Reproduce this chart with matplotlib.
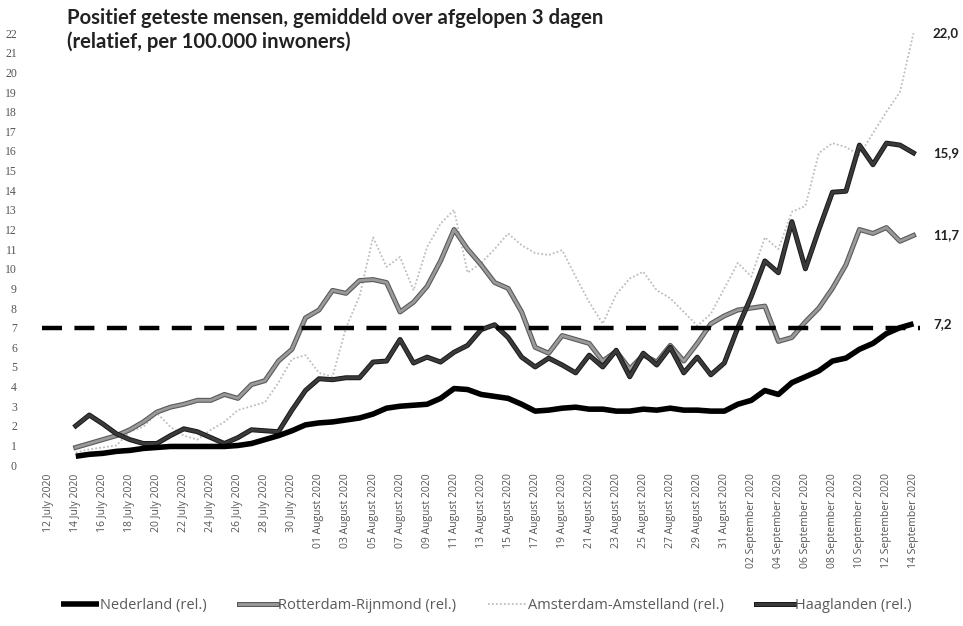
import matplotlib

matplotlib.use("Agg")
import matplotlib.pyplot as plt
import matplotlib.patheffects as pe
import pandas as pd

# categories: every day from 12 July to 14 September 2020, data from 14 July
dates = pd.date_range("2020-07-12", "2020-09-14", freq="D")
first_data_day = 2

nederland = [0.45, 0.55, 0.6, 0.7, 0.75, 0.85, 0.9, 0.95, 0.95, 0.95, 0.95, 0.95,
             1.0, 1.1, 1.3, 1.5, 1.75, 2.05, 2.15, 2.2, 2.3, 2.4, 2.6, 2.9, 3.0,
             3.05, 3.1, 3.4, 3.9, 3.85, 3.6, 3.5, 3.4, 3.1, 2.75, 2.8, 2.9, 2.95,
             2.85, 2.85, 2.75, 2.75, 2.85, 2.8, 2.9, 2.8, 2.8, 2.75, 2.75, 3.1,
             3.3, 3.8, 3.6, 4.2, 4.5, 4.8, 5.3, 5.45, 5.9, 6.2, 6.7, 7.0, 7.2]
rotterdam = [0.9, 1.1, 1.3, 1.5, 1.8, 2.2, 2.7, 2.95, 3.1, 3.3, 3.3, 3.6, 3.4,
             4.1, 4.3, 5.3, 5.9, 7.5, 7.9, 8.9, 8.75, 9.4, 9.45, 9.3, 7.8, 8.3,
             9.1, 10.4, 12.0, 11.0, 10.2, 9.3, 9.0, 7.8, 6.0, 5.7, 6.6, 6.4, 6.2,
             5.3, 5.8, 4.9, 5.6, 5.25, 6.1, 5.3, 6.2, 7.2, 7.6, 7.9, 8.0, 8.1,
             6.3, 6.5, 7.3, 8.0, 9.0, 10.2, 12.0, 11.8, 12.1, 11.4, 11.7]
amsterdam = [0.65, 0.8, 0.9, 1.0, 1.7, 1.95, 2.65, 1.95, 1.5, 1.3, 1.8, 2.2,
             2.8, 3.0, 3.2, 4.2, 5.4, 5.6, 4.7, 4.5, 7.0, 8.6, 11.6, 10.1, 10.6,
             8.9, 11.1, 12.3, 13.0, 9.8, 10.3, 11.0, 11.8, 11.2, 10.8, 10.7,
             10.95, 9.6, 8.3, 7.2, 8.7, 9.5, 9.85, 8.9, 8.5, 7.8, 7.1, 7.7, 9.0,
             10.3, 9.6, 11.6, 11.0, 12.9, 13.2, 15.9, 16.4, 16.2, 15.8, 16.9,
             18.0, 19.0, 22.0]
haaglanden = [2.0, 2.55, 2.1, 1.6, 1.3, 1.1, 1.1, 1.5, 1.85, 1.7, 1.4, 1.1, 1.4,
              1.8, 1.75, 1.7, 2.8, 3.8, 4.4, 4.35, 4.45, 4.45, 5.25, 5.3, 6.4,
              5.2, 5.5, 5.25, 5.75, 6.1, 6.9, 7.15, 6.5, 5.5, 5.0, 5.45, 5.1,
              4.7, 5.6, 5.0, 5.85, 4.5, 5.7, 5.1, 6.0, 4.7, 5.5, 4.6, 5.2, 7.0,
              8.6, 10.4, 9.8, 12.4, 10.0, 12.0, 13.9, 13.95, 16.3, 15.3, 16.4,
              16.3, 15.9]
threshold = 7

title = ("Positief geteste mensen, gemiddeld over afgelopen 3 dagen\n"
         "(relatief, per 100.000 inwoners)")

fig = plt.figure(figsize=(9.63, 6.26), dpi=100)
ax = fig.add_axes([0.0436, 0.257, 0.912, 0.69])

xs = list(range(first_data_day, len(dates)))

ax.plot(xs, amsterdam, color="#bdbdbd", lw=1.3, ls=(0, (1, 1.2)),
        label="Amsterdam-Amstelland (rel.)", zorder=2)
ax.plot(xs, rotterdam, color="#9a9a9a", lw=2.0,
        path_effects=[pe.Stroke(linewidth=3.6, foreground="#5a5a5a"), pe.Normal()],
        label="Rotterdam-Rijnmond (rel.)", zorder=3)
ax.plot(xs, haaglanden, color="#3a3a3a", lw=2.2,
        path_effects=[pe.Stroke(linewidth=3.6, foreground="#1a1a1a"), pe.Normal()],
        label="Haaglanden (rel.)", zorder=4)
ax.plot(xs, nederland, color="black", lw=4.0, solid_capstyle="butt",
        label="Nederland (rel.)", zorder=5)
ax.axhline(threshold, color="black", lw=3.2, ls=(0, (4.5, 2.8)), zorder=6)

# end-value labels
for vals in (amsterdam, haaglanden, rotterdam, nederland):
    ax.annotate(f"{vals[-1]:.1f}".replace(".", ","), xy=(xs[-1], vals[-1]),
                xytext=(14, 0), textcoords="offset points", va="center",
                ha="left", fontsize=9.5, color="#222222", family="Lato",
                fontweight="bold")

ax.set_xlim(-0.5, len(dates) - 0.5)
ax.set_ylim(0, 22)
ax.set_yticks(range(0, 23))
ax.tick_params(axis="y", length=0, pad=18, labelsize=8.5, labelcolor="#555555")
for lab in ax.get_yticklabels():
    lab.set_family("Liberation Serif")

tick_idx = list(range(0, len(dates), 2))
ax.set_xticks(tick_idx)
ax.set_xticklabels([dates[i].strftime("%d %B %Y") for i in tick_idx],
                   rotation=90, fontsize=7.5, color="#555555",
                   family="Open Sans")
ax.tick_params(axis="x", length=0, pad=6)

for s in ax.spines.values():
    s.set_visible(False)

fig.text(0.07, 0.988, title, ha="left", va="top", fontsize=14.6,
         family="Lato", fontweight="bold", color="#222222",
         linespacing=1.25)

handles, labels = ax.get_legend_handles_labels()
order = [3, 1, 0, 2]
leg = fig.legend([handles[i] for i in order], [labels[i] for i in order],
                 loc="lower center", bbox_to_anchor=(0.505, 0.0), ncol=4,
                 frameon=False, fontsize=10.5, handlelength=2.6,
                 handletextpad=0.1, columnspacing=2.2)
for t in leg.get_texts():
    t.set_color("#5a5a5a")
    t.set_family("Open Sans")

fig.savefig("out.png", dpi=100)
